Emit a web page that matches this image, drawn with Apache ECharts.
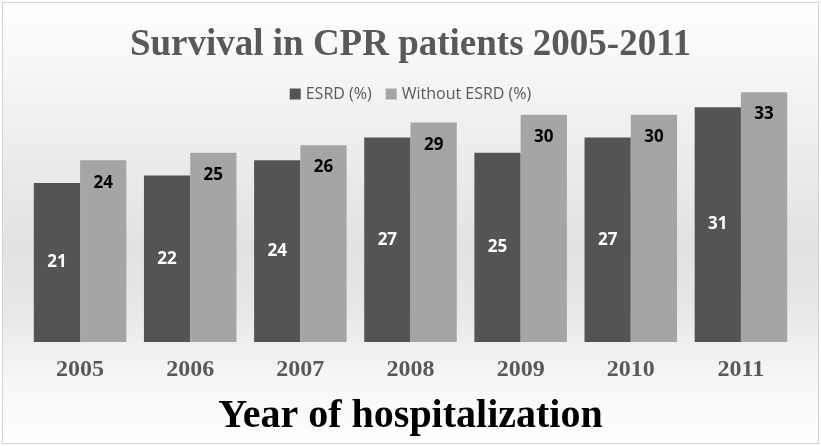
<!DOCTYPE html>
<html>
<head>
<meta charset="utf-8">
<script src="https://cdn.jsdelivr.net/npm/echarts@6/dist/echarts.min.js"></script>
<style>
html,body{margin:0;padding:0;background:#fff;}
#wrap{position:absolute;left:2px;top:2px;width:815px;height:440px;border:1px solid #d4d4d4;
background:linear-gradient(to bottom,#ffffff 0%,#f1f1f1 25%,#e2e2e2 55%,#e6e6e6 68%,#f6f6f6 85%,#ffffff 100%);}
#chart{position:absolute;left:-3px;top:-3px;width:821px;height:446px;}
</style>
</head>
<body>
<div id="wrap"><div id="chart"></div></div>
<script>
const categories = ['2005','2006','2007','2008','2009','2010','2011'];
const esrd = [21,22,24,27,25,27,31];
const withoutEsrd = [24,25,26,29,30,30,33];
const seriesNames = ['ESRD (%)','Without ESRD (%)'];

const chart = echarts.init(document.getElementById('chart'), null, {renderer:'canvas'});
chart.setOption({
  backgroundColor:'transparent',
  animation:false,
  title:{
    text:'Survival in CPR patients 2005-2011',
    left:'center', top:22,
    textStyle:{fontFamily:'Liberation Serif', fontWeight:'bold', fontSize:37, color:'#595959'}
  },
  legend:{
    data:seriesNames, top:81, left:'center',
    itemWidth:11, itemHeight:11, itemGap:14,
    icon:'rect',
    textStyle:{fontFamily:'Open Sans', fontSize:16, color:'#595959'}
  },
  grid:{left:25, right:25, top:77, bottom:104, outerBoundsMode:'none', containLabel:false},
  xAxis:{
    type:'category', data:categories,
    name:'Year of hospitalization', nameLocation:'middle', nameGap:55,
    nameTextStyle:{fontFamily:'Liberation Serif', fontWeight:'bold', fontSize:40, color:'#000'},
    axisLine:{show:false}, axisTick:{show:false},
    axisLabel:{fontFamily:'Liberation Serif', fontWeight:'bold', fontSize:24, color:'#595959', margin:16}
  },
  yAxis:{type:'value', min:0, max:35, show:false, splitLine:{show:false}},
  series:[
    {name:seriesNames[0], type:'bar', data:esrd, barGap:'0%', barCategoryGap:'16%',
     itemStyle:{color:'#545454'},
     label:{show:true, position:'inside', color:'#fff', fontFamily:'Open Sans', fontWeight:'bold', fontSize:17}},
    {name:seriesNames[1], type:'bar', data:withoutEsrd,
     itemStyle:{color:'#a5a5a5'},
     label:{show:true, position:'insideTop', distance:14, color:'#000', fontFamily:'Open Sans', fontWeight:'bold', fontSize:17}}
  ]
});
</script>
</body>
</html>
